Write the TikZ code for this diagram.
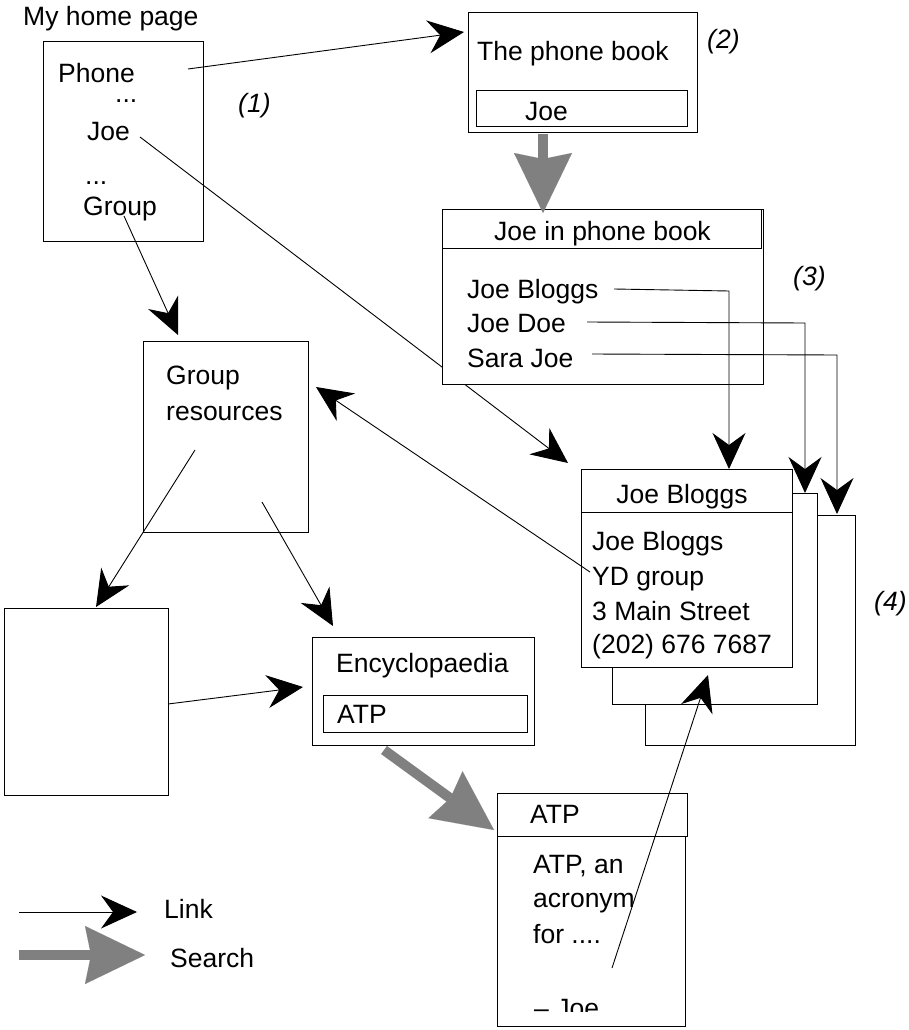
\documentclass[tikz,border=0pt]{standalone}
\usepackage{fontspec}
\setmainfont{Liberation Sans}
\usetikzlibrary{arrows.meta}
\begin{document}
\begin{tikzpicture}[x=1pt,y=-1pt,
  box/.style={draw=black, line width=1pt, fill=white, inner sep=0pt, outer sep=0pt},
  txt/.style={inner sep=0pt, anchor=base west, font=\fontsize{26.5}{30}\selectfont},
  ctxt/.style={inner sep=0pt, anchor=base, font=\fontsize{26.5}{30}\selectfont},
  tnum/.style={inner sep=0pt, anchor=base west, font=\fontsize{26.5}{30}\selectfont\itshape},
  link/.style={line width=0.9pt, -{Stealth[length=36pt,width=33pt,inset=12pt]}},
  search/.style={line width=10pt, draw=gray, -{Stealth[length=60pt,width=58pt,inset=6pt,line width=0.01pt]}},
]
\useasboundingbox (0,0) rectangle (908,1030);

% ---------- home page ----------
\node[txt] (title) at (23,26) {My home page};
\node[box, minimum width=160pt, minimum height=199pt] (home) at (123,141.5) {};
\node[txt] (phone) at (58,83) {Phone};
\node[txt] (dots1) at (115,103) {...};
\node[txt] (joe) at (87,140) {Joe};
\node[txt] (dots2) at (85,184) {...};
\node[txt] (group) at (83,215) {Group};
\node[tnum] (n1) at (238,113) {(1)};

% ---------- phone book ----------
\node[box, minimum width=229pt, minimum height=120pt] (pb) at (582.5,73) {};
\node[txt] (pbt) at (477,61) {The phone book};
\node[box, minimum width=211pt, minimum height=36pt] (pbq) at (581.5,109) {};
\node[txt] (pbqt) at (525,121) {Joe};
\node[tnum] (n2) at (707,49) {(2)};

% link Joe -> card (under the phone-book result box)
\coordinate (joeS) at (140,137);
\coordinate (card1tip) at (568,463);
\draw[link] (joeS) -- (card1tip);

% ---------- Joe in phone book ----------
\node[box, minimum width=321pt, minimum height=175pt] (jpb) at (602.5,296.5) {};
\node[box, minimum width=319pt, minimum height=39pt] (jpbtitle) at (601.5,228.5) {};
\node[ctxt] (jpbt) at (602.5,240) {Joe in phone book};
\node[txt] (r1) at (467,298) {Joe Bloggs};
\node[txt] (r2) at (467,332) {Joe Doe};
\node[txt] (r3) at (467,367) {Sara Joe};
\node[tnum] (n3) at (793,285) {(3)};

% ---------- cards ----------
\node[box, minimum width=210pt, minimum height=230pt] (card3) at (750,630) {};
\node[box, minimum width=205pt, minimum height=211pt] (card2) at (714.5,598.5) {};
\node[box, minimum width=211pt, minimum height=198pt] (card1) at (686.5,568) {};
\coordinate (c1L) at (581,512);
\coordinate (c1R) at (792,512);
\draw[line width=1pt] (c1L) -- (c1R);
\node[ctxt] (c1t) at (682,503) {Joe Bloggs};
\node[txt] (c1a) at (592,550) {Joe Bloggs};
\node[txt] (c1b) at (592,585) {YD group};
\node[txt] (c1c) at (592,620) {3 Main Street};
\node[txt] (c1d) at (592,653) {(202) 676 7687};
\node[tnum] (n4) at (874,610) {(4)};

% ---------- group resources ----------
\node[box, minimum width=165pt, minimum height=191pt] (gr) at (225.5,436.5) {};
\node[txt] (grt1) at (166,384) {Group};
\node[txt] (grt2) at (166,420) {resources};

% ---------- blank page ----------
\node[box, minimum width=164pt, minimum height=187pt] (blank) at (86,701.5) {};

% ---------- encyclopaedia ----------
\node[box, minimum width=222pt, minimum height=108pt] (ency) at (423,691) {};
\node[txt] (encyt) at (336,672) {Encyclopaedia};
\node[box, minimum width=204pt, minimum height=37pt] (encyq) at (425,713.5) {};
\node[txt] (encyqt) at (337,723) {ATP};

% ---------- ATP page ----------
\node[box, minimum width=190pt, minimum height=43pt] (atptitle) at (592,814.5) {};
\node[box, minimum width=188pt, minimum height=190pt] (atp) at (591,931) {};
\node[txt] (atpt) at (530,823) {ATP};
\node[txt] (atp1) at (533,873) {ATP, an};
\node[txt] (atp2) at (533,907) {acronym};
\node[txt] (atp3) at (533,943) {for ....};
\begin{scope}
\clip (497,836) rectangle (685,1011);
\node[txt] (atp4) at (534,1017) {\textendash\ Joe};
\end{scope}

% ---------- links ----------
\coordinate (phoneS) at (188,69);
\coordinate (pbtip) at (464,32);
\draw[link] (phoneS) -- (pbtip);

\coordinate (groupS) at (124,216);
\coordinate (grtip) at (178,335);
\draw[link] (groupS) -- (grtip);

\coordinate (ydS) at (590,572);
\coordinate (grtip2) at (316,387);
\draw[link] (ydS) -- (grtip2);

\coordinate (grS1) at (195,450);
\coordinate (blanktip) at (96,607);
\draw[link] (grS1) -- (blanktip);

\coordinate (grS2) at (262,502);
\coordinate (encytip) at (333,626);
\draw[link] (grS2) -- (encytip);

\coordinate (blankS) at (168,704);
\coordinate (encytip2) at (303,687);
\draw[link] (blankS) -- (encytip2);

\coordinate (atpS) at (612,968);
\coordinate (cardtip) at (708,675);
\draw[link] (atpS) -- (cardtip);

\coordinate (r1S) at (614,289);
\coordinate (r1tip) at (729,469);
\draw[link] (r1S) -- (729,291) -- (r1tip);

\coordinate (r2S) at (587,322);
\coordinate (r2tip) at (805,493);
\draw[link] (r2S) -- (805,323) -- (r2tip);

\coordinate (r3S) at (592,354);
\coordinate (r3tip) at (837,514);
\draw[link] (r3S) -- (837,355) -- (r3tip);

% ---------- searches ----------
\coordinate (pbS) at (543,134);
\coordinate (jpbtip) at (543,213);
\draw[search] (pbS) -- (jpbtip);

\coordinate (encyS) at (384,750);
\coordinate (atptip) at (494,830);
\draw[search] (encyS) -- (atptip);

% ---------- legend ----------
\coordinate (lkS) at (19,912);
\coordinate (lkE) at (137,912);
\draw[link] (lkS) -- (lkE);
\node[txt] (lkt) at (164,918) {Link};
\coordinate (srS) at (19,955);
\coordinate (srE) at (145,955);
\draw[search] (srS) -- (srE);
\node[txt] (srt) at (170,967) {Search};
\end{tikzpicture}
\end{document}
